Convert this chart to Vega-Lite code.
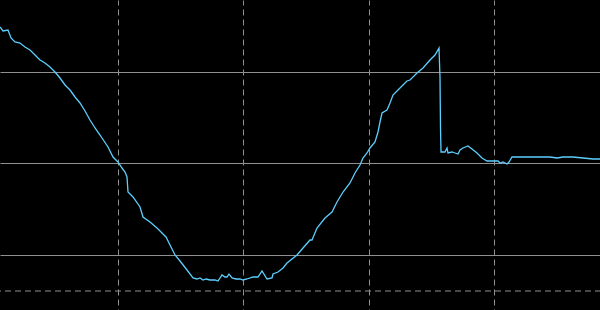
{
  "$schema": "https://vega.github.io/schema/vega-lite/v6.json",
  "width": 600,
  "height": 310,
  "autosize": {"type": "none"},
  "padding": 0,
  "background": "#000000",
  "config": {"view": {"stroke": null}, "axis": {"minExtent": 0, "maxExtent": 0, "offset": 0, "labelPadding": 0, "titlePadding": 0}},
  "datasets": {
    "series": [
      {"t":0,"v":283},{"t":3,"v":279},{"t":8,"v":280},{"t":11,"v":272},{"t":15,"v":268},{"t":20,"v":267},{"t":25,"v":263},{"t":30,"v":260},{"t":35,"v":255},{"t":40,"v":250},{"t":45,"v":247},{"t":50,"v":243},{"t":55,"v":238},{"t":60,"v":232},{"t":65,"v":225},{"t":70,"v":220},{"t":75,"v":213},{"t":80,"v":207},{"t":85,"v":199},{"t":90,"v":190},{"t":95,"v":182},{"t":100,"v":175},{"t":104,"v":169},{"t":108,"v":163},{"t":113,"v":153},{"t":118,"v":148},{"t":122,"v":142},{"t":125,"v":138},{"t":127,"v":133},{"t":128,"v":118},{"t":133,"v":113},{"t":140,"v":103},{"t":143,"v":93},{"t":150,"v":88},{"t":157,"v":82},{"t":162,"v":77},{"t":166,"v":73},{"t":170,"v":65},{"t":175,"v":55},{"t":180,"v":49},{"t":187,"v":40},{"t":193,"v":32},{"t":197,"v":31},{"t":200,"v":32},{"t":203,"v":30},{"t":206,"v":31},{"t":210,"v":30},{"t":215,"v":30},{"t":218,"v":29},{"t":222,"v":35},{"t":225,"v":33},{"t":227,"v":33},{"t":229,"v":36},{"t":232,"v":32},{"t":236,"v":31},{"t":240,"v":31},{"t":243,"v":30},{"t":247,"v":31},{"t":253,"v":33},{"t":258,"v":33},{"t":262,"v":39},{"t":267,"v":31},{"t":272,"v":32},{"t":273,"v":36},{"t":278,"v":38},{"t":283,"v":42},{"t":287,"v":47},{"t":292,"v":51},{"t":297,"v":55},{"t":303,"v":62},{"t":310,"v":70},{"t":312,"v":70},{"t":317,"v":82},{"t":325,"v":92},{"t":332,"v":98},{"t":337,"v":108},{"t":343,"v":118},{"t":350,"v":127},{"t":355,"v":137},{"t":360,"v":145},{"t":363,"v":152},{"t":367,"v":157},{"t":370,"v":162},{"t":375,"v":168},{"t":378,"v":178},{"t":380,"v":188},{"t":382,"v":197},{"t":387,"v":200},{"t":390,"v":207},{"t":393,"v":215},{"t":398,"v":220},{"t":403,"v":225},{"t":407,"v":229},{"t":410,"v":230},{"t":417,"v":237},{"t":423,"v":242},{"t":430,"v":250},{"t":435,"v":255},{"t":439,"v":262},{"t":440,"v":232},{"t":440.5,"v":182},{"t":441,"v":158},{"t":445,"v":158},{"t":447,"v":162},{"t":448,"v":157},{"t":452,"v":158},{"t":455,"v":157},{"t":458,"v":156},{"t":460,"v":160},{"t":463,"v":162},{"t":468,"v":164},{"t":472,"v":161},{"t":477,"v":157},{"t":482,"v":152},{"t":487,"v":149},{"t":493,"v":149},{"t":498,"v":149},{"t":500,"v":147},{"t":503,"v":148},{"t":507,"v":146},{"t":509,"v":148},{"t":512,"v":153},{"t":517,"v":153},{"t":523,"v":153},{"t":530,"v":153},{"t":540,"v":153},{"t":550,"v":153},{"t":557,"v":152},{"t":563,"v":153},{"t":573,"v":153},{"t":583,"v":152},{"t":593,"v":151},{"t":600,"v":151}
    ],
    "limit": [{"v": 19}]
  },
  "layer": [
    {
      "data": {"name": "limit"},
      "mark": {"type": "rule", "color": "#909090", "strokeWidth": 1, "strokeDash": [6, 4], "strokeDashOffset": 1},
      "encoding": {
        "y": {"field": "v", "type": "quantitative", "scale": {"domain": [0, 310], "nice": false, "zero": false}}
      }
    },
    {
      "data": {"name": "series"},
      "mark": {"type": "line", "color": "#5ccfff", "strokeWidth": 1.3, "interpolate": "linear"},
      "encoding": {
        "x": {
          "field": "t", "type": "quantitative",
          "scale": {"domain": [0, 600], "nice": false, "zero": false},
          "axis": {"title": null, "labels": false, "ticks": false, "domain": false, "grid": true, "values": [118, 243, 369, 494], "gridColor": "#909090", "gridWidth": 1, "gridDash": [6, 4], "gridDashOffset": 1, "gridOpacity": 1}
        },
        "y": {
          "field": "v", "type": "quantitative",
          "scale": {"domain": [0, 310], "nice": false, "zero": false},
          "axis": {"title": null, "labels": false, "ticks": false, "domain": false, "grid": true, "values": [55, 147, 238], "gridColor": "#909090", "gridWidth": 1, "gridOpacity": 1}
        }
      }
    }
  ]
}
